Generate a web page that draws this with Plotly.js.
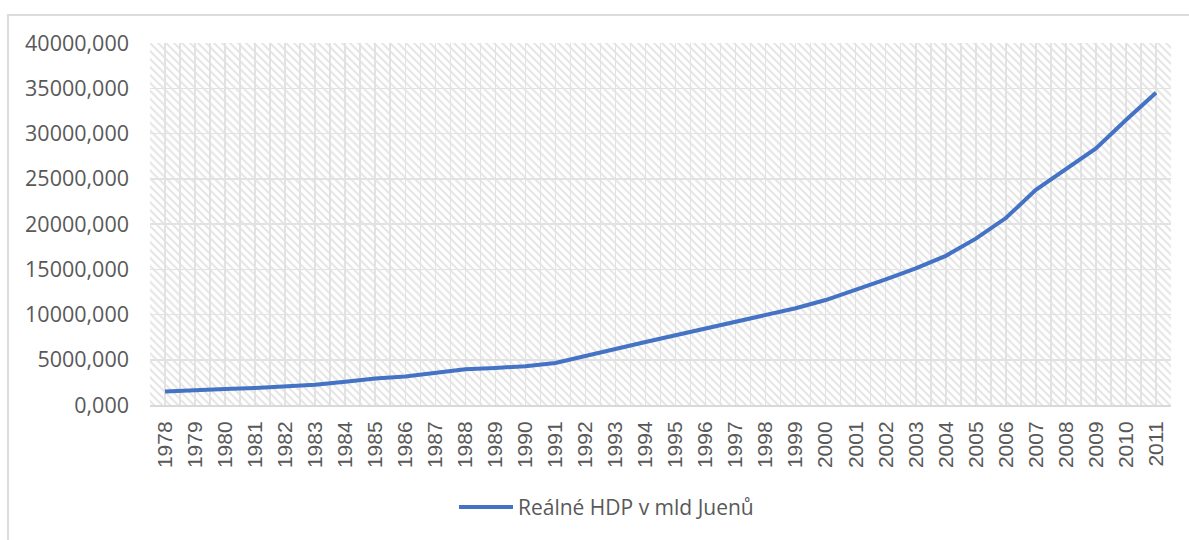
<!DOCTYPE html>
<html>
<head>
<meta charset="utf-8">
<script src="https://cdn.plot.ly/plotly-3.0.1.min.js"></script>
<style>
  html, body { margin: 0; padding: 0; background: #ffffff; }
  #wrap { position: relative; width: 1189px; height: 540px; overflow: hidden; }
  #chart { position: absolute; left: 0; top: 0; width: 1189px; height: 540px; }
  #frame { position: absolute; left: 7px; top: 14px; width: 1300px; height: 700px;
           border-left: 2px solid #dcdcdc; border-top: 2px solid #dcdcdc; pointer-events: none; }
</style>
</head>
<body>
<div id="wrap">
  <div id="chart"></div>
  <div id="frame"></div>
</div>
<script>
// ---- data ----
const years = ["1978","1979","1980","1981","1982","1983","1984","1985","1986","1987",
               "1988","1989","1990","1991","1992","1993","1994","1995","1996","1997",
               "1998","1999","2000","2001","2002","2003","2004","2005","2006","2007",
               "2008","2009","2010","2011"];
const realGDP = [1480, 1650, 1760, 1870, 2050, 2230, 2560, 2920, 3140, 3520,
                 3960, 4100, 4290, 4650, 5380, 6190, 6960, 7690, 8490, 9260,
                 9960, 10690, 11600, 12700, 13880, 15090, 16480, 18380, 20660, 23770,
                 26000, 28350, 31500, 34500];
const seriesName = "Reálné HDP v mld Juenů";
const yTicks = [0, 5000, 10000, 15000, 20000, 25000, 30000, 35000, 40000];

// ---- chart ----
const xNum = years.map(y => parseInt(y, 10));
const textColor = "#595959";
const gridColor = "#e2e2e2";

const W = 1189, H = 540;
const margin = {l: 150, r: 18, t: 43, b: 133};
const pw = W - margin.l - margin.r, ph = H - margin.t - margin.b;

const svg = "<svg xmlns='http://www.w3.org/2000/svg' width='" + pw + "' height='" + ph + "'>" +
  "<defs><pattern id='p' width='8' height='8' patternUnits='userSpaceOnUse'>" +
  "<path d='M-2,-2 L10,10 M-2,6 L2,10 M6,-2 L10,2' stroke='#e6e6e6' stroke-width='2.2'/>" +
  "</pattern></defs><rect width='100%' height='100%' fill='url(#p)'/></svg>";
const hatch = "data:image/svg+xml;charset=utf-8," + encodeURIComponent(svg);

const trace = {
  type: "scatter",
  mode: "lines",
  x: xNum,
  y: realGDP,
  name: seriesName,
  line: {color: "#4472C4", width: 4},
  hoverinfo: "x+y"
};

const layout = {
  width: W, height: H,
  margin: margin,
  paper_bgcolor: "rgba(0,0,0,0)",
  plot_bgcolor: "#ffffff",
  separators: ",.",
  showlegend: true,
  legend: {
    orientation: "h",
    x: (454 - margin.l) / pw, xanchor: "left",
    y: -(510 - (margin.t + ph)) / ph, yanchor: "middle",
    itemwidth: 54,
    font: {family: "Open Sans, sans-serif", size: 21, color: textColor},
    bgcolor: "rgba(0,0,0,0)"
  },
  xaxis: {
    type: "linear",
    range: [xNum[0] - 0.5, xNum[xNum.length - 1] + 0.5],
    tickmode: "array",
    tickvals: xNum,
    ticktext: years,
    tickangle: -90,
    ticks: "",
    ticklabelstandoff: 6,
    tickfont: {family: "Liberation Sans, Arial, sans-serif", size: 21, color: textColor},
    showgrid: true,
    gridcolor: gridColor,
    gridwidth: 1.5,
    minor: {tick0: xNum[0] - 0.5, dtick: 1, showgrid: true, gridcolor: gridColor, gridwidth: 1.5},
    showline: true,
    linecolor: "#d9d9d9",
    linewidth: 2,
    zeroline: false,
    fixedrange: true
  },
  yaxis: {
    range: [0, 40000],
    tickmode: "array",
    tickvals: yTicks,
    tickformat: ".3f",
    ticks: "",
    ticklabelstandoff: 20,
    tickfont: {family: "Open Sans, sans-serif", size: 21.5, color: textColor},
    showgrid: true,
    gridcolor: gridColor,
    gridwidth: 1.5,
    zeroline: false,
    showline: false,
    fixedrange: true
  },
  images: [{
    source: hatch,
    xref: "paper", yref: "paper",
    x: 0, y: 1, sizex: 1, sizey: 1,
    xanchor: "left", yanchor: "top",
    sizing: "stretch",
    layer: "below"
  }]
};

Plotly.newPlot("chart", [trace], layout, {displayModeBar: false, staticPlot: true}).then(function (gd) {
  // lengthen the legend sample line to match the reference
  gd.querySelectorAll("g.legendlines path").forEach(function (p) {
    p.setAttribute("d", "M5,0h54");
  });
});
</script>
</body>
</html>
